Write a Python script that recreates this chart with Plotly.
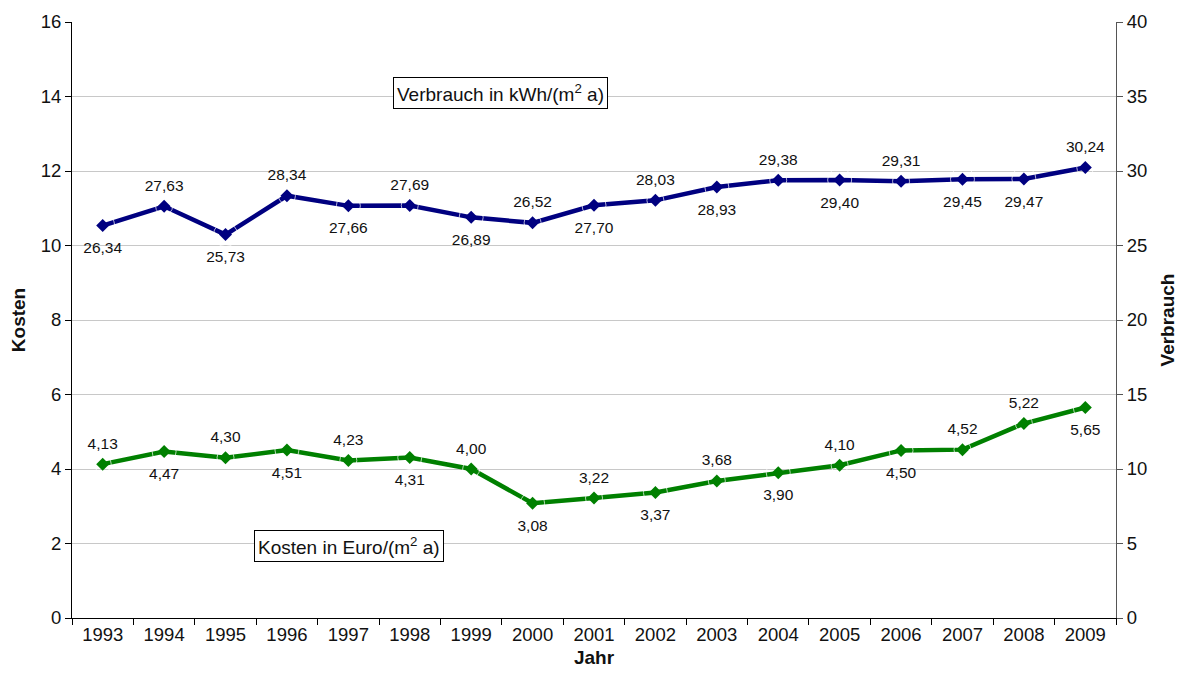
import plotly.graph_objects as go

jahre = [str(y) for y in range(1993, 2010)]
verbrauch = [26.34, 27.63, 25.73, 28.34, 27.66, 27.69, 26.89, 26.52, 27.70, 28.03,
             28.93, 29.38, 29.40, 29.31, 29.45, 29.47, 30.24]
kosten = [4.13, 4.47, 4.30, 4.51, 4.23, 4.31, 4.00, 3.08, 3.22, 3.37,
          3.68, 3.90, 4.10, 4.50, 4.52, 5.22, 5.65]
verbrauch_pos = ["bottom center", "top center", "bottom center", "top center", "bottom center",
                 "top center", "bottom center", "top center", "bottom center", "top center",
                 "bottom center", "top center", "bottom center", "top center", "bottom center",
                 "bottom center", "top center"]
kosten_pos = ["top center", "bottom center", "top center", "bottom center", "top center",
              "bottom center", "top center", "bottom center", "top center", "bottom center",
              "top center", "bottom center", "top center", "bottom center", "top center",
              "top center", "bottom center"]

def fmt(v):
    return f"{v:.2f}".replace(".", ",")

def offset_sizes(positions):
    return [17 if p.startswith("top") else 24 for p in positions]

FONT = "Liberation Sans, Arial, sans-serif"
LABEL_FONT = dict(size=15.5, color="#111111", family=FONT)

fig = go.Figure()
fig.add_trace(go.Scatter(
    x=jahre, y=kosten, mode="lines+markers", name="Kosten",
    line=dict(color="#008000", width=4.5),
    marker=dict(symbol="diamond", size=10, color="#008000"),
    yaxis="y", cliponaxis=False,
))
fig.add_trace(go.Scatter(
    x=jahre, y=verbrauch, mode="lines+markers", name="Verbrauch",
    line=dict(color="#000080", width=4.5),
    marker=dict(symbol="diamond", size=10, color="#000080"),
    yaxis="y2", cliponaxis=False,
))
fig.add_trace(go.Scatter(
    x=jahre, y=kosten, mode="markers+text", hoverinfo="skip",
    marker=dict(size=offset_sizes(kosten_pos), color="rgba(0,0,0,0)"),
    text=[fmt(v) for v in kosten], textposition=kosten_pos, textfont=LABEL_FONT,
    yaxis="y", cliponaxis=False,
))
fig.add_trace(go.Scatter(
    x=jahre, y=verbrauch, mode="markers+text", hoverinfo="skip",
    marker=dict(size=offset_sizes(verbrauch_pos), color="rgba(0,0,0,0)"),
    text=[fmt(v) for v in verbrauch], textposition=verbrauch_pos, textfont=LABEL_FONT,
    yaxis="y2", cliponaxis=False,
))

fig.update_layout(
    width=1177, height=674,
    margin=dict(l=64, r=69, t=14, b=64),
    paper_bgcolor="white", plot_bgcolor="white",
    font=dict(family=FONT, color="#111111"),
    showlegend=False,
    xaxis=dict(
        type="category", tickson="boundaries", ticks="outside", ticklen=6,
        tickcolor="#000000", showline=True, linecolor="#000000", linewidth=1,
        showgrid=False, tickfont=dict(size=18.5),
        title=dict(text="<b>Jahr</b>", font=dict(size=19), standoff=6),
        range=[-0.5, 16.5], automargin=False,
    ),
    yaxis=dict(
        range=[0, 16], dtick=2, ticks="outside", ticklen=6, tickcolor="#000000",
        showline=True, linecolor="#000000", linewidth=1,
        showgrid=True, gridcolor="#c8c8c8", gridwidth=1,
        tickfont=dict(size=18.5), zeroline=False, automargin=False,
        title=dict(text="<b>Kosten</b>", font=dict(size=19), standoff=14),
    ),
    yaxis2=dict(
        range=[0, 40], dtick=5, overlaying="y", side="right",
        ticks="outside", ticklen=6, tickcolor="#555555",
        showline=True, linecolor="#555555", linewidth=1,
        showgrid=False, tickfont=dict(size=18.5), zeroline=False, automargin=False,
        title=dict(text="<b>Verbrauch</b>", font=dict(size=19), standoff=14),
    ),
    annotations=[
        dict(text="Verbrauch in kWh/(m<sup>2</sup> a)", xref="paper", yref="paper",
             x=(500.5 - 72) / (1116 - 72), y=(618 - 92.5) / 596, showarrow=False,
             xanchor="center", yanchor="middle",
             font=dict(size=19, color="#111111"), bordercolor="#000000", borderwidth=1,
             borderpad=3, bgcolor="white"),
        dict(text="Kosten in Euro/(m<sup>2</sup> a)", xref="paper", yref="paper",
             x=(348.5 - 72) / (1116 - 72), y=(618 - 546) / 596, showarrow=False,
             xanchor="center", yanchor="middle",
             font=dict(size=19, color="#111111"), bordercolor="#000000", borderwidth=1,
             borderpad=3, bgcolor="white"),
    ],
)

fig.write_html("out.html")
